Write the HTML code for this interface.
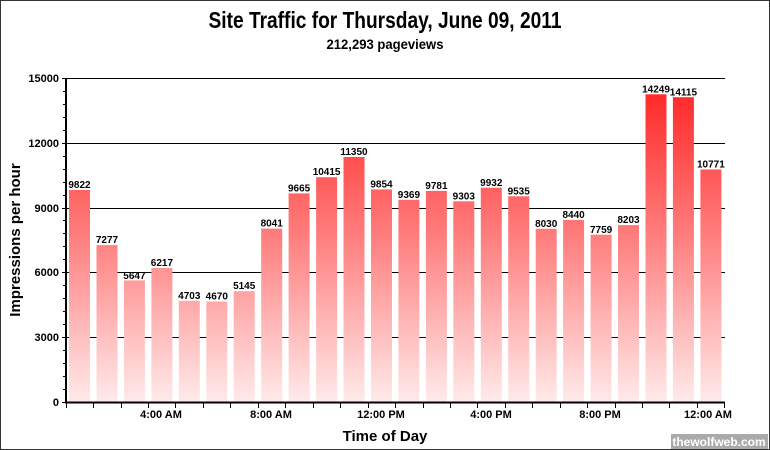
<!DOCTYPE html>
<html><head><meta charset="utf-8"><style>
html,body{margin:0;padding:0;background:#fff}
svg{display:block}
text{font-family:"Liberation Sans Narrow","Liberation Sans",sans-serif;font-weight:bold;fill:#000}
</style></head><body>
<svg width="770" height="450" viewBox="0 0 770 450" xmlns="http://www.w3.org/2000/svg">
<defs>
<linearGradient id="g" gradientUnits="userSpaceOnUse" x1="0" y1="78" x2="0" y2="402">
<stop offset="0" stop-color="#ff2020"/>
<stop offset="0.5" stop-color="#ff8080"/>
<stop offset="1" stop-color="#ffeaea"/>
</linearGradient>
</defs>
<rect x="0.5" y="0.5" width="769" height="449" fill="#fff" stroke="#333"/>
<text x="385" y="28" font-size="23" text-anchor="middle" textLength="353" lengthAdjust="spacingAndGlyphs">Site Traffic for Thursday, June 09, 2011</text>
<text x="385" y="49" font-size="14" text-anchor="middle" textLength="117" lengthAdjust="spacingAndGlyphs">212,293 pageviews</text>
<g stroke="#000" stroke-width="1">
<line x1="66" y1="78.5" x2="725" y2="78.5"/>
<line x1="66" y1="143.5" x2="725" y2="143.5"/>
<line x1="66" y1="208.5" x2="725" y2="208.5"/>
<line x1="66" y1="272.5" x2="725" y2="272.5"/>
<line x1="66" y1="337.5" x2="725" y2="337.5"/>
</g>
<g fill="url(#g)">
<rect x="69" y="190" width="21" height="212.5"/>
<rect x="96.5" y="245.1" width="21" height="157.4"/>
<rect x="123.9" y="280.4" width="21" height="122.1"/>
<rect x="151.4" y="268" width="21" height="134.5"/>
<rect x="178.8" y="300.8" width="21" height="101.7"/>
<rect x="206.3" y="301.5" width="21" height="101"/>
<rect x="233.7" y="291.2" width="21" height="111.3"/>
<rect x="261.2" y="228.6" width="21" height="173.9"/>
<rect x="288.6" y="193.4" width="21" height="209.1"/>
<rect x="316.1" y="177.2" width="21" height="225.3"/>
<rect x="343.5" y="157" width="21" height="245.5"/>
<rect x="371" y="189.4" width="21" height="213.1"/>
<rect x="398.4" y="199.8" width="21" height="202.7"/>
<rect x="425.9" y="190.9" width="21" height="211.6"/>
<rect x="453.3" y="201.3" width="21" height="201.2"/>
<rect x="480.8" y="187.7" width="21" height="214.8"/>
<rect x="508.2" y="196.3" width="21" height="206.2"/>
<rect x="535.7" y="228.8" width="21" height="173.7"/>
<rect x="563.1" y="219.9" width="21" height="182.6"/>
<rect x="590.6" y="234.7" width="21" height="167.8"/>
<rect x="618" y="225.1" width="21" height="177.4"/>
<rect x="645.5" y="94.3" width="21" height="308.2"/>
<rect x="672.9" y="97.2" width="21" height="305.3"/>
<rect x="700.4" y="169.5" width="21" height="233"/>
</g>
<g font-size="10" text-anchor="middle">
<text x="79.5" y="188">9822</text>
<text x="107" y="243">7277</text>
<text x="134.4" y="279">5647</text>
<text x="161.9" y="266">6217</text>
<text x="189.3" y="299">4703</text>
<text x="216.8" y="299.5">4670</text>
<text x="244.2" y="289">5145</text>
<text x="271.7" y="226.5">8041</text>
<text x="299.1" y="191.5">9665</text>
<text x="326.6" y="175">10415</text>
<text x="354" y="155">11350</text>
<text x="381.5" y="187.5">9854</text>
<text x="408.9" y="198">9369</text>
<text x="436.4" y="189">9781</text>
<text x="463.8" y="199.5">9303</text>
<text x="491.3" y="186">9932</text>
<text x="518.7" y="194.5">9535</text>
<text x="546.2" y="227">8030</text>
<text x="573.6" y="218">8440</text>
<text x="601.1" y="233">7759</text>
<text x="628.5" y="223">8203</text>
<text x="656" y="92.5">14249</text>
<text x="683.4" y="95.5">14115</text>
<text x="710.9" y="167.5">10771</text>
</g>
<g stroke="#000" stroke-width="2">
<line x1="66" y1="78" x2="66" y2="403"/>
<line x1="65" y1="402.5" x2="725" y2="402.5"/>
</g>
<g stroke="#000" stroke-width="1">
<line x1="62" y1="402.5" x2="66" y2="402.5"/>
<line x1="62" y1="337.5" x2="66" y2="337.5"/>
<line x1="62" y1="272.5" x2="66" y2="272.5"/>
<line x1="62" y1="208.5" x2="66" y2="208.5"/>
<line x1="62" y1="143.5" x2="66" y2="143.5"/>
<line x1="62" y1="78.5" x2="66" y2="78.5"/>
<path d="M63 389.5h3M63 376.5h3M63 363.5h3M63 350.5h3M63 324.5h3M63 311.5h3M63 298.5h3M63 285.5h3M63 259.5h3M63 246.5h3M63 233.5h3M63 220.5h3M63 195.5h3M63 182.5h3M63 169.5h3M63 156.5h3M63 130.5h3M63 117.5h3M63 104.5h3M63 91.5h3"/>
<path d="M66.5 403v5M93.5 403v5M121.5 403v5M148.5 403v5M175.5 403v5M203.5 403v5M230.5 403v5M258.5 403v5M285.5 403v5M313.5 403v5M340.5 403v5M368.5 403v5M395.5 403v5M423.5 403v5M450.5 403v5M477.5 403v5M505.5 403v5M532.5 403v5M560.5 403v5M587.5 403v5M615.5 403v5M642.5 403v5M669.5 403v5M697.5 403v5M724.5 403v5"/>
</g>
<g font-size="11" text-anchor="end">
<text x="59" y="406">0</text>
<text x="59" y="341">3000</text>
<text x="59" y="276">6000</text>
<text x="59" y="212">9000</text>
<text x="59" y="147">12000</text>
<text x="59" y="82">15000</text>
</g>
<g font-size="11" text-anchor="middle">
<text x="161" y="418">4:00 AM</text>
<text x="271" y="418">8:00 AM</text>
<text x="381" y="418">12:00 PM</text>
<text x="491" y="418">4:00 PM</text>
<text x="600" y="418">8:00 PM</text>
<text x="708" y="418">12:00 AM</text>
</g>
<text x="385" y="441" font-size="15" text-anchor="middle">Time of Day</text>
<text transform="translate(20,240) rotate(-90)" font-size="15" text-anchor="middle">Impressions per hour</text>
<rect x="671" y="434" width="97" height="15" fill="#aaa"/>
<text x="719" y="446" font-size="12" text-anchor="middle" style="fill:#fff">thewolfweb.com</text>
</svg>
</body></html>
